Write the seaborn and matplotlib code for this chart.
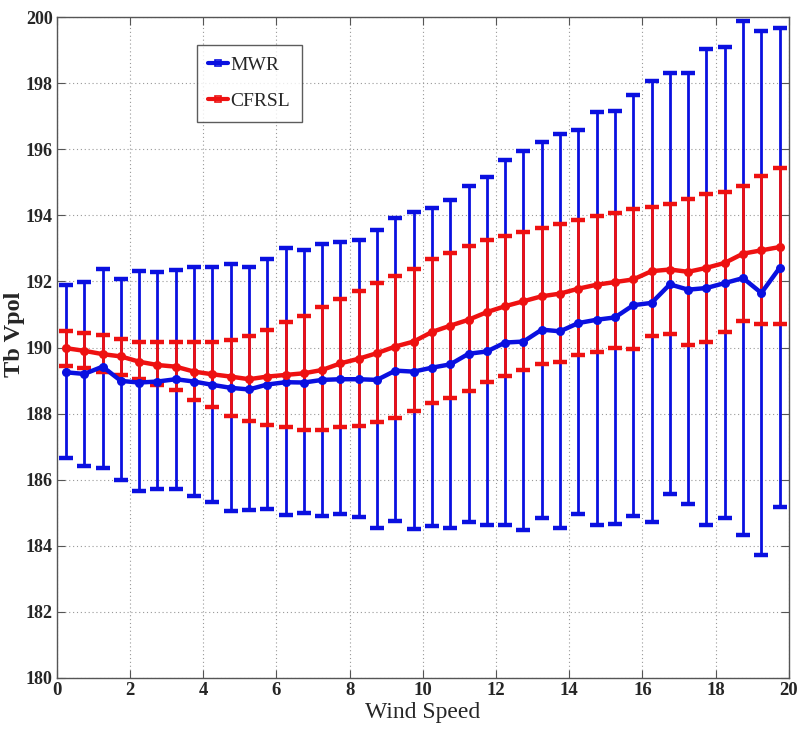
import numpy as np
import pandas as pd
import matplotlib
matplotlib.use("Agg")
import matplotlib.pyplot as plt
from matplotlib.lines import Line2D
import seaborn as sns

# Wind-speed bin centres (m/s)
wind_speed = [0.25, 0.75, 1.25, 1.75, 2.25, 2.75, 3.25, 3.75, 4.25, 4.75,
              5.25, 5.75, 6.25, 6.75, 7.25, 7.75, 8.25, 8.75, 9.25, 9.75,
              10.25, 10.75, 11.25, 11.75, 12.25, 12.75, 13.25, 13.75, 14.25, 14.75,
              15.25, 15.75, 16.25, 16.75, 17.25, 17.75, 18.25, 18.75, 19.25, 19.75]

# MWR V-pol brightness temperature: mean, lower and upper bounds (K)
mwr_mean = [189.25, 189.20, 189.42, 188.99, 188.94, 188.97, 189.04, 188.97, 188.87, 188.78,
            188.73, 188.88, 188.95, 188.94, 189.02, 189.04, 189.04, 189.02, 189.30, 189.27,
            189.39, 189.49, 189.81, 189.88, 190.15, 190.18, 190.54, 190.49, 190.74, 190.84,
            190.91, 191.28, 191.35, 191.91, 191.75, 191.80, 191.95, 192.10, 191.65, 192.41]
mwr_upper = [191.90, 191.98, 192.38, 192.08, 192.33, 192.29, 192.35, 192.45, 192.43, 192.53,
             192.45, 192.68, 193.00, 192.94, 193.14, 193.20, 193.24, 193.57, 193.93, 194.11,
             194.23, 194.47, 194.89, 195.15, 195.68, 195.96, 196.23, 196.46, 196.59, 197.12,
             197.17, 197.65, 198.05, 198.31, 198.31, 199.03, 199.08, 199.88, 199.57, 199.67]
mwr_lower = [186.66, 186.40, 186.35, 185.98, 185.67, 185.72, 185.72, 185.52, 185.34, 185.04,
             185.07, 185.12, 184.93, 184.98, 184.91, 184.96, 184.88, 184.55, 184.76, 184.51,
             184.61, 184.53, 184.71, 184.63, 184.63, 184.49, 184.84, 184.54, 184.95, 184.63,
             184.66, 184.90, 184.73, 185.57, 185.25, 184.63, 184.84, 184.33, 183.72, 185.17]

# CFRSL model V-pol brightness temperature: mean, lower and upper bounds (K)
cfrsl_mean = [189.98, 189.90, 189.80, 189.73, 189.57, 189.47, 189.42, 189.27, 189.19, 189.12,
              189.04, 189.12, 189.17, 189.22, 189.32, 189.52, 189.66, 189.83, 190.03, 190.18,
              190.47, 190.66, 190.84, 191.07, 191.25, 191.40, 191.55, 191.63, 191.78, 191.90,
              191.98, 192.06, 192.31, 192.36, 192.29, 192.41, 192.56, 192.84, 192.94, 193.04]
cfrsl_upper = [190.51, 190.43, 190.39, 190.25, 190.18, 190.16, 190.16, 190.16, 190.18, 190.23,
               190.36, 190.54, 190.76, 190.94, 191.22, 191.48, 191.72, 191.95, 192.16, 192.39,
               192.68, 192.85, 193.06, 193.25, 193.36, 193.50, 193.63, 193.75, 193.85, 193.98,
               194.07, 194.18, 194.26, 194.33, 194.48, 194.65, 194.72, 194.89, 195.20, 195.42]
cfrsl_lower = [189.44, 189.39, 189.27, 189.17, 189.04, 188.88, 188.71, 188.41, 188.21, 187.93,
               187.77, 187.67, 187.58, 187.50, 187.50, 187.58, 187.63, 187.75, 187.88, 188.08,
               188.31, 188.46, 188.68, 188.95, 189.14, 189.32, 189.49, 189.57, 189.78, 189.85,
               190.00, 189.95, 190.36, 190.40, 190.08, 190.16, 190.46, 190.79, 190.71, 190.71]

x_ticks = [0, 2, 4, 6, 8, 10, 12, 14, 16, 18, 20]
y_ticks = [180, 182, 184, 186, 188, 190, 192, 194, 196, 198, 200]

BLUE = "#0a10e0"
RED = "#ee1111"

sns.set_theme(style="white")
plt.rcParams["font.family"] = ["Liberation Serif", "DejaVu Serif"]

df = pd.DataFrame({
    "ws": wind_speed * 2,
    "tb": mwr_mean + cfrsl_mean,
    "lo": mwr_lower + cfrsl_lower,
    "hi": mwr_upper + cfrsl_upper,
    "src": ["MWR"] * len(wind_speed) + ["CFRSL"] * len(wind_speed),
})

fig = plt.figure(figsize=(8.0, 7.47), dpi=100)
ax = fig.add_axes([0.071, 0.0924, 0.915, 0.8848])

series = [("MWR", BLUE, 2, 4), ("CFRSL", RED, 3, 5)]
for name, col, z_err, z_line in series:
    sub = df[df["src"] == name]
    err = np.vstack([sub["tb"] - sub["lo"], sub["hi"] - sub["tb"]])
    ax.errorbar(sub["ws"], sub["tb"], yerr=err, fmt="none", ecolor=col,
                elinewidth=2.0, capsize=5.0, capthick=3.2, zorder=z_err)
    sns.lineplot(data=sub, x="ws", y="tb", ax=ax, color=col, linewidth=3.2,
                 marker="o", markersize=6.5, markeredgewidth=0,
                 legend=False, zorder=z_line, sort=False)

ax.set_xlim(0, 20)
ax.set_ylim(180, 200)
ax.set_xticks(x_ticks)
ax.set_yticks(y_ticks)
ax.set_xticklabels([str(v) for v in x_ticks], fontsize=13.5, fontweight="bold")
ax.set_yticklabels([str(v) for v in y_ticks], fontsize=13, fontweight="bold")
ax.tick_params(axis="both", direction="in", length=6, width=0.8, color="#555555",
               top=True, right=True, bottom=True, left=True, pad=3)
ax.grid(True, linestyle=(0, (1, 2.5)), color="#999999", linewidth=0.8)
for sp in ax.spines.values():
    sp.set_color("#555555")
    sp.set_linewidth(1.0)

ax.set_xlabel("Wind Speed", fontsize=17, labelpad=2)
ax.set_ylabel("Tb Vpol", fontsize=17.5, fontweight="bold")
ax.yaxis.label.set_verticalalignment("baseline")
ax.yaxis.set_label_coords(-0.0505, 0.52)

handles = [
    Line2D([], [], color=BLUE, linewidth=3, marker="s", markersize=5,
           markerfacecolor="none", markeredgewidth=1.2),
    Line2D([], [], color=RED, linewidth=3, marker="s", markersize=5,
           markerfacecolor="none", markeredgewidth=1.2),
]
leg = ax.legend(handles, ["MWR", "CFRSL"], loc="upper left",
                bbox_to_anchor=(0.191, 0.958), fontsize=14, frameon=True,
                fancybox=False, edgecolor="#333333", handlelength=1.0,
                handletextpad=0.15, borderpad=0.6, labelspacing=0.95,
                borderaxespad=0)
leg.get_frame().set_linewidth(1.0)

fig.savefig("out.png", dpi=100)
